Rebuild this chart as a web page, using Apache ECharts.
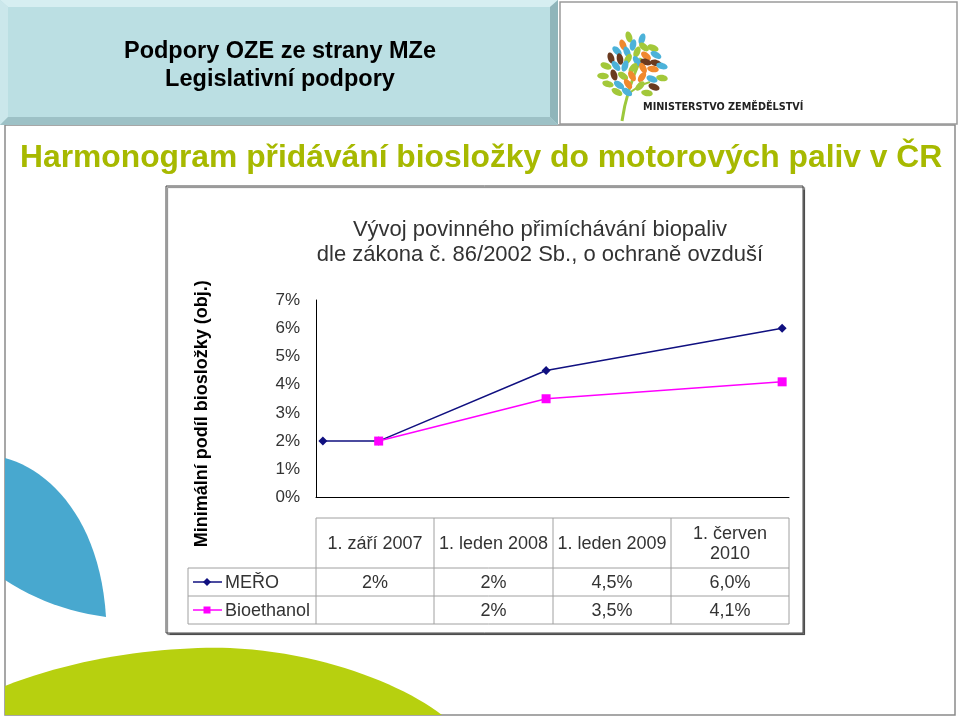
<!DOCTYPE html>
<html>
<head>
<meta charset="utf-8">
<script src="https://cdn.jsdelivr.net/npm/echarts@6/dist/echarts.min.js"></script>
<style>
html,body{margin:0;padding:0;background:#fff;}
#chart{width:959px;height:718px;}
</style>
</head>
<body>
<div id="chart"></div>
<script>
// ---- data ----
var dates = ['2007-09-01', '2008-01-01', '2009-01-01', '2010-06-01'];
var dateLabels = ['1. září 2007', '1. leden 2008', '1. leden 2009', '1. červen\n2010'];
var seriesNames = ['MEŘO', 'Bioethanol'];
var meroValues = [2, 2, 4.5, 6.0];
var bioValues = [null, 2, 3.5, 4.1];
var meroText = ['2%', '2%', '4,5%', '6,0%'];
var bioText = ['', '2%', '3,5%', '4,1%'];
var yTicks = [0, 1, 2, 3, 4, 5, 6, 7];

var slideTitle1 = 'Podpory OZE ze strany MZe';
var slideTitle2 = 'Legislativní podpory';
var mainTitle = 'Harmonogram přidávání biosložky do motorových paliv v ČR';
var chartTitle1 = 'Vývoj povinného přimíchávání biopaliv';
var chartTitle2 = 'dle zákona č. 86/2002 Sb., o ochraně ovzduší';
var yName = 'Minimální podíl biosložky (obj.)';
var logoText = 'MINISTERSTVO ZEMĚDĚLSTVÍ';

var MERO_COLOR = '#101080';
var BIO_COLOR = '#ff00ff';
var FONT = '"Liberation Sans", Arial, sans-serif';

function pairs(vals) {
  return dates.map(function (d, i) { return [d, vals[i]]; }).filter(function (p) { return p[1] != null; });
}
// sample cubic bezier segments into polygon points
function bez(p0, c1, c2, p1, n) {
  var pts = [];
  for (var i = 0; i <= n; i++) {
    var t = i / n, u = 1 - t;
    pts.push([u*u*u*p0[0] + 3*u*u*t*c1[0] + 3*u*t*t*c2[0] + t*t*t*p1[0],
              u*u*u*p0[1] + 3*u*u*t*c1[1] + 3*u*t*t*c2[1] + t*t*t*p1[1]]);
  }
  return pts;
}

var g = [];
// slide frame
g.push({type:'rect', shape:{x:5, y:125, width:950, height:590}, style:{fill:'#fff', stroke:'#8a8a8a', lineWidth:1.5}, z:0});
// header bevel box
g.push({type:'rect', shape:{x:0, y:0, width:558, height:125}, style:{fill:'#bbdfe3'}, z:1});
g.push({type:'polygon', shape:{points:[[0,0],[558,0],[550,7],[8,7]]}, style:{fill:'#d6eef1'}, z:2});
g.push({type:'polygon', shape:{points:[[0,0],[8,7],[8,117],[0,125]]}, style:{fill:'#cbe7eb'}, z:2});
g.push({type:'polygon', shape:{points:[[558,0],[558,125],[550,117],[550,7]]}, style:{fill:'#8fb5ba'}, z:2});
g.push({type:'polygon', shape:{points:[[0,125],[558,125],[550,117],[8,117]]}, style:{fill:'#9dc1c6'}, z:2});
g.push({type:'text', x:280, y:52, style:{text:slideTitle1, font:'bold 23.5px ' + FONT, fill:'#000', textAlign:'center', textVerticalAlign:'middle'}, z:3});
g.push({type:'text', x:280, y:80, style:{text:slideTitle2, font:'bold 23.5px ' + FONT, fill:'#000', textAlign:'center', textVerticalAlign:'middle'}, z:3});
// logo box
g.push({type:'rect', shape:{x:560, y:2, width:397, height:122}, style:{fill:'#fff', stroke:'#9a9a9a', lineWidth:1.5}, z:1});
// tree trunk
g.push({type:'bezierCurve', shape:{x1:622, y1:121, cpx1:626, cpy1:92, x2:641, y2:58}, style:{stroke:'#9cc83c', lineWidth:3, fill:null}, z:3});
g.push({type:'bezierCurve', shape:{x1:628, y1:95, cpx1:636, cpy1:86, x2:650, y2:82}, style:{stroke:'#9cc83c', lineWidth:2, fill:null}, z:3});
var G='#a3c83a', B='#4cb2d9', O='#f0892e', Br='#6a3a1f';
var leaves = [
 [629,37,G,0.3],[642,39,B,-0.3],[623,45,O,0.4],[633,45,B,-0.2],[644,47,G,0.9],[653,48,G,1.2],
 [617,51,B,0.8],[627,52,B,0.4],[637,52,G,-0.4],[646,56,O,0.9],[656,55,B,1.1],
 [611,58,Br,0.3],[620,59,Br,0.2],[628,59,G,-0.5],[637,61,B,0.6],[646,62,Br,1.3],[656,63,Br,1.3],
 [606,66,G,1.2],[616,66,B,0.7],[625,66,B,-0.3],[633,68,G,-0.7],[643,68,O,0.5],[653,69,O,1.4],[662,66,B,1.3],
 [603,76,G,1.5],[614,75,Br,0.3],[623,76,G,1.0],[632,76,O,0.5],[642,77,O,-0.6],[652,79,B,1.2],[662,78,G,1.4],
 [608,84,G,1.3],[619,85,B,1.0],[628,84,O,0.6],[640,86,G,-0.8],[654,87,Br,1.2],
 [617,92,G,1.1],[627,92,B,1.0],[647,93,G,1.4]
];
leaves.forEach(function (l) {
  g.push({type:'ellipse', x:l[0], y:l[1], rotation:l[3], shape:{cx:0, cy:0, rx:3.2, ry:5.8}, style:{fill:l[2]}, z:3});
});
g.push({type:'text', x:643, y:107, scaleX:0.88, originX:0, originY:0, style:{text:logoText, font:'bold 11px "DejaVu Sans", sans-serif', fill:'#222', textAlign:'left', textVerticalAlign:'middle'}, z:3});
// main title
g.push({type:'text', x:20, y:158, style:{text:mainTitle, font:'bold 31.8px ' + FONT, fill:'#a7b900', textAlign:'left', textVerticalAlign:'middle'}, z:3});
// decorative shapes
var blue = bez([5,458],[50,470],[100,520],[106,617],24).concat(bez([106,617],[70,612],[35,600],[5,580],12));
g.push({type:'polygon', shape:{points:blue}, style:{fill:'#48a8cf'}, z:1});
var green = bez([5,686],[80,656],[170,646],[230,648],24).concat(bez([230,648],[320,652],[400,683],[442,715],24));
green.push([5,715]);
g.push({type:'polygon', shape:{points:green}, style:{fill:'#b7d00f'}, z:1});
// chart box
g.push({type:'rect', shape:{x:166, y:186, width:637, height:447}, style:{fill:'#fff', stroke:'#444', lineWidth:1, shadowColor:'rgba(0,0,0,0.5)', shadowOffsetX:1.5, shadowOffsetY:1.5, shadowBlur:1}, z:2});
g.push({type:'text', x:540, y:230, style:{text:chartTitle1, font:'22px ' + FONT, fill:'#333', textAlign:'center', textVerticalAlign:'middle'}, z:4});
g.push({type:'text', x:540, y:255, style:{text:chartTitle2, font:'22px ' + FONT, fill:'#333', textAlign:'center', textVerticalAlign:'middle'}, z:4});

// data table
var colX = [188, 316, 434, 553, 671, 789];
var rowY = [518, 568, 596, 624];
var LC = '#a0a0a0';
function line(x1, y1, x2, y2) { g.push({type:'line', shape:{x1:x1, y1:y1, x2:x2, y2:y2}, style:{stroke:LC, lineWidth:1}, z:4}); }
line(colX[1], rowY[0], colX[5], rowY[0]);
line(colX[0], rowY[1], colX[5], rowY[1]);
line(colX[0], rowY[2], colX[5], rowY[2]);
line(colX[0], rowY[3], colX[5], rowY[3]);
line(colX[0], rowY[1], colX[0], rowY[3]);
for (var c = 1; c < colX.length; c++) line(colX[c], rowY[0], colX[c], rowY[3]);
dateLabels.forEach(function (t, i) {
  g.push({type:'text', x:(colX[i+1] + colX[i+2]) / 2, y:(rowY[0] + rowY[1]) / 2 + 1, style:{text:t, font:'18px ' + FONT, fill:'#333', textAlign:'center', textVerticalAlign:'middle', lineHeight:20}, z:5});
});
[meroText, bioText].forEach(function (arr, r) {
  arr.forEach(function (t, i) {
    g.push({type:'text', x:(colX[i+1] + colX[i+2]) / 2, y:(rowY[r+1] + rowY[r+2]) / 2 + 1, style:{text:t, font:'18px ' + FONT, fill:'#333', textAlign:'center', textVerticalAlign:'middle'}, z:5});
  });
});
// legend keys in table
[[MERO_COLOR, 'diamond'], [BIO_COLOR, 'square']].forEach(function (k, r) {
  var cy = (rowY[r+1] + rowY[r+2]) / 2;
  g.push({type:'line', shape:{x1:193, y1:cy, x2:222, y2:cy}, style:{stroke:k[0], lineWidth:1.5}, z:5});
  if (k[1] === 'diamond') {
    g.push({type:'polygon', shape:{points:[[207,cy-4],[211,cy],[207,cy+4],[203,cy]]}, style:{fill:k[0]}, z:6});
  } else {
    g.push({type:'rect', shape:{x:203.5, y:cy-3.5, width:7, height:7}, style:{fill:k[0]}, z:6});
  }
  g.push({type:'text', x:225, y:cy + 1, style:{text:seriesNames[r], font:'18px ' + FONT, fill:'#333', textAlign:'left', textVerticalAlign:'middle'}, z:5});
});

var chart = echarts.init(document.getElementById('chart'));
chart.setOption({
  animation: false,
  backgroundColor: '#fff',
  grid: {left: 316, right: 170, top: 300, bottom: 220.5, containLabel: false},
  xAxis: {
    type: 'time',
    z: 10,
    min: '2007-08-17',
    max: '2010-06-16',
    axisLine: {show: true, lineStyle: {color: '#000', width: 1}},
    axisTick: {show: false},
    axisLabel: {show: false},
    splitLine: {show: false}
  },
  yAxis: {
    type: 'value',
    z: 10,
    min: 0, max: 7, interval: 1,
    axisLine: {show: true, lineStyle: {color: '#000', width: 1}},
    axisTick: {show: false},
    splitLine: {show: false},
    axisLabel: {formatter: '{value}%', color: '#333', fontSize: 17, fontFamily: FONT, margin: 16},
    name: yName,
    nameLocation: 'middle',
    nameRotate: 90,
    nameGap: 105,
    nameTextStyle: {color: '#000', fontSize: 18, fontWeight: 'bold', fontFamily: FONT, padding:[0,0,0,-30]}
  },
  series: [
    {name: seriesNames[0], type: 'line', data: pairs(meroValues), symbol: 'diamond', symbolSize: 9,
     lineStyle: {color: MERO_COLOR, width: 1.5}, itemStyle: {color: MERO_COLOR}, z: 11},
    {name: seriesNames[1], type: 'line', data: pairs(bioValues), symbol: 'rect', symbolSize: 9,
     lineStyle: {color: BIO_COLOR, width: 1.5}, itemStyle: {color: BIO_COLOR}, z: 12}
  ],
  graphic: {elements: g}
});
</script>
</body>
</html>
